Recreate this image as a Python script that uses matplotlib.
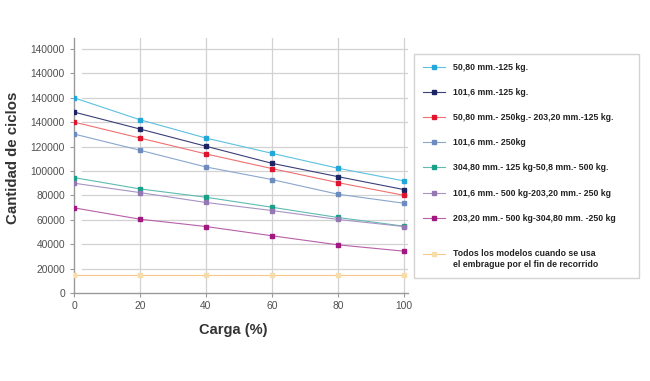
import matplotlib
matplotlib.use("Agg")
import matplotlib.pyplot as plt

plt.rcParams['font.family'] = ['Liberation Sans', 'DejaVu Sans']

# ---- data ----
carga = [0, 20, 40, 60, 80, 100]
series_labels = [
    "50,80 mm.-125 kg.",
    "101,6 mm.-125 kg.",
    "50,80 mm.- 250kg.- 203,20 mm.-125 kg.",
    "101,6 mm.- 250kg",
    "304,80 mm.- 125 kg-50,8 mm.- 500 kg.",
    "101,6 mm.- 500 kg-203,20 mm.- 250 kg",
    "203,20 mm.- 500 kg-304,80 mm. -250 kg",
    "Todos los modelos cuando se usa\nel embrague por el fin de recorrido",
]
s1 = [160000, 142000, 127000, 114500, 102300, 91900]
s2 = [148300, 134400, 120300, 106300, 95400, 84800]
s3 = [140100, 127000, 114000, 102000, 90500, 80100]
s4 = [130300, 117000, 103300, 93000, 81000, 73600]
s5 = [94600, 85300, 78500, 70300, 61900, 54800]
s6 = [90000, 82300, 74200, 67600, 60300, 54500]
s7 = [69800, 60500, 54500, 46900, 39500, 34300]
s8 = [14500, 14500, 14500, 14500, 14500, 14500]
series_values = [s1, s2, s3, s4, s5, s6, s7, s8]

y_ticks = [0, 20000, 40000, 60000, 80000, 100000, 120000, 140000, 160000, 180000, 200000]
y_tick_labels = ["0", "20000", "40000", "60000", "80000", "100000", "120000",
                 "140000", "140000", "140000", "140000"]
x_ticks = [0, 20, 40, 60, 80, 100]

line_colors = ["#5cc0e0", "#3a3f78", "#f07070", "#8aa6cc", "#5fbcb0", "#a894c4", "#b860a8", "#f7c78a"]
marker_colors = ["#22a8d8", "#1c2466", "#e0152d", "#6c8cc0", "#1aa088", "#9478b4", "#a01880", "#f8dcaa"]

# ---- figure ----
W, H = 650, 381
fig = plt.figure(figsize=(W / 100, H / 100), dpi=100)
ax_l, ax_r, ax_b, ax_t = 74, 408, 293, 38
ax = fig.add_axes([ax_l / W, 1 - ax_b / H, (ax_r - ax_l) / W, (ax_b - ax_t) / H])

grid_c = "#d2d2d2"
for yt in y_ticks[1:]:
    ax.axhline(yt, xmin=0.024, xmax=1, color=grid_c, lw=0.9, zorder=0)
for xt in x_ticks[1:]:
    ax.axvline(xt, color=grid_c, lw=0.9, zorder=0)

handles = []
for vals, lab, lc, mc in zip(series_values, series_labels, line_colors, marker_colors):
    h, = ax.plot(carga, vals, color=lc, lw=0.8, marker="s", markersize=2.2,
                 markerfacecolor=mc, markeredgecolor=mc, label=lab, zorder=3)
    handles.append(h)

ax.set_xlim(0, 101.3)
ax.set_ylim(0, 209000)
ax.set_xticks(x_ticks)
ax.set_yticks(y_ticks)
ax.set_yticklabels(y_tick_labels)

for sp in ["top", "right"]:
    ax.spines[sp].set_visible(False)
for sp in ["left", "bottom"]:
    ax.spines[sp].set_color("#9a9a9a")
    ax.spines[sp].set_linewidth(1.0)
ax.tick_params(axis="both", colors="#9a9a9a", labelcolor="#505050", labelsize=7.4, length=3, width=0.8)
ax.tick_params(axis="x", pad=3)

ax.set_xlabel("Carga (%)", fontsize=10.5, fontweight="bold", color="#333333")
ax.xaxis.set_label_coords((233 - ax_l) / (ax_r - ax_l), (ax_b - 323) / (ax_b - ax_t))
ax.set_ylabel("Cantidad de ciclos", fontsize=10.8, fontweight="bold", color="#333333")
ax.yaxis.set_label_coords((20 - ax_l) / (ax_r - ax_l), (ax_b - 158) / (ax_b - ax_t))

# the last entry is shown one line lower, handle on its first text line
leg_labels = series_labels[:-1] + ["\n" + series_labels[-1]]
leg = fig.legend(handles=handles, labels=leg_labels,
                 loc="upper left",
                 bbox_to_anchor=(414 / W, 1 - 54 / H, (639 - 414) / W, 0.0),
                 mode="expand", prop={"weight": "bold", "size": 6.3},
                 frameon=True, fancybox=False, edgecolor="#c8c8c8",
                 handlelength=2.5, handletextpad=1.0, labelspacing=1.85,
                 borderpad=1.0, borderaxespad=0.0)
leg.get_frame().set_linewidth(1.0)
for t in leg.get_texts():
    t.set_color("#222222")

fig.savefig("out.png", dpi=100)
